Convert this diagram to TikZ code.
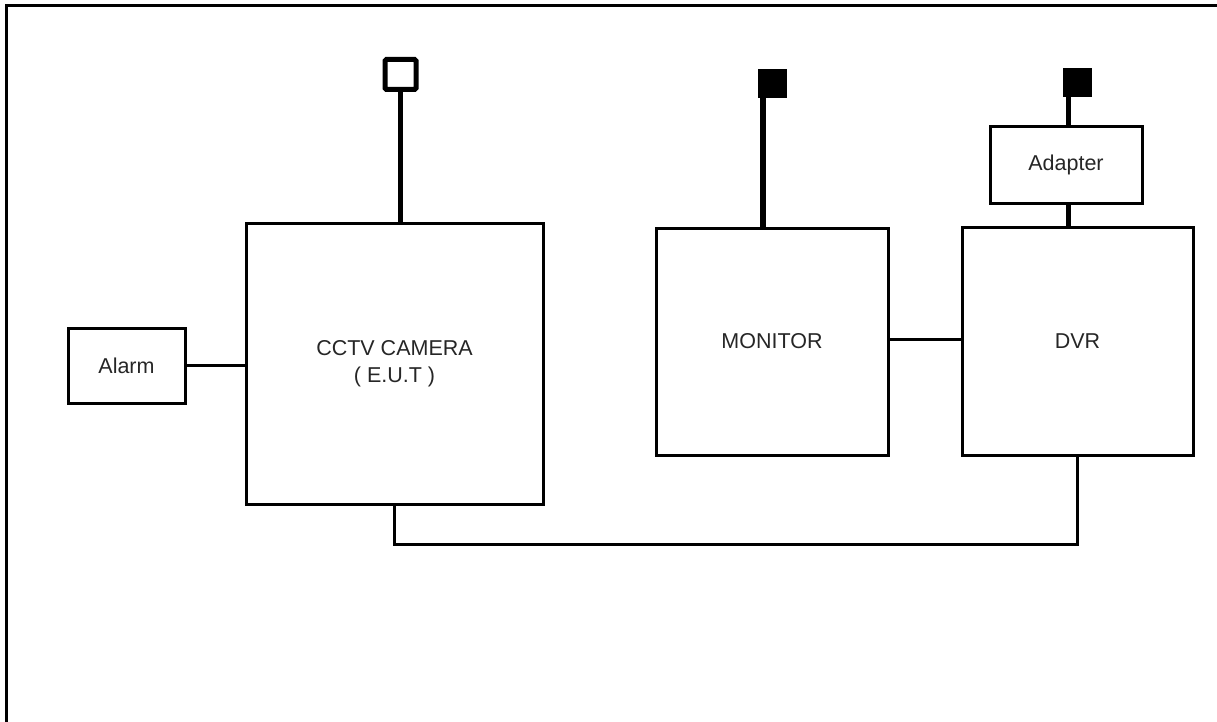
\documentclass[tikz,border=0pt]{standalone}
\usepackage{fontspec}
\setmainfont{Liberation Sans}
\usetikzlibrary{calc}
\begin{document}
\begin{tikzpicture}[x=1pt,y=-1pt,
  box/.style={draw=black,line width=3pt,rectangle,inner sep=0pt,font=\fontsize{21.5}{26}\selectfont,text=black!85,align=center},
  wire/.style={draw=black,line width=3pt},
  stem/.style={draw=black,line width=5.5pt},
  plugopen/.style={draw=black,line width=5pt,rectangle,rounded corners=1.5pt,minimum width=31pt,minimum height=30pt,inner sep=0pt},
  plugfull/.style={draw=black,fill=black,line width=1pt,rectangle,minimum width=28pt,minimum height=28pt,inner sep=0pt}]
\useasboundingbox (0,0) rectangle (1217,722);
\draw[line width=3pt] (6,722) -- (6,6) -- (1217,6);
% boxes
\node[box,minimum width=297pt,minimum height=281pt] (cam) at (394.5,363.5) {CCTV CAMERA\\[1pt]( E.U.T )};
\node[box,minimum width=117pt,minimum height=75pt] (alarm) at (126.5,365.5) {Alarm};
\node[box,minimum width=232pt,minimum height=227pt] (mon) at (772,341.5) {MONITOR};
\node[box,minimum width=231pt,minimum height=228pt] (dvr) at (1077.5,341) {DVR};
\node[box,minimum width=152pt,minimum height=76pt] (adp) at (1066,165) {Adapter};
% plugs
\node[plugopen] (plc) at (400.5,74.5) {};
\node[plugfull] (plm) at (772.5,84) {};
\node[plugfull] (pld) at (1077.5,83) {};
\coordinate (pm) at ([xshift=5pt]plm.south west);
\coordinate (pd) at ([xshift=5.5pt]pld.south west);
\draw[stem] (plc.south) -- (plc.south |- cam.north);
\draw[stem] (pm) -- (pm |- mon.north);
\draw[stem] (pd) -- (pd |- adp.north);
\coordinate (pa) at (adp.south -| pd);
\draw[stem] (pa) -- (pa |- dvr.north);
% connectors
\draw[wire] (alarm.east) -- (alarm.east -| cam.west);
\draw[wire] ([yshift=2pt]mon.east) -- ([yshift=2pt]mon.east -| dvr.west);
\draw[wire] (cam.south) -- ++(0,39) -| (dvr.south);
\end{tikzpicture}
\end{document}
